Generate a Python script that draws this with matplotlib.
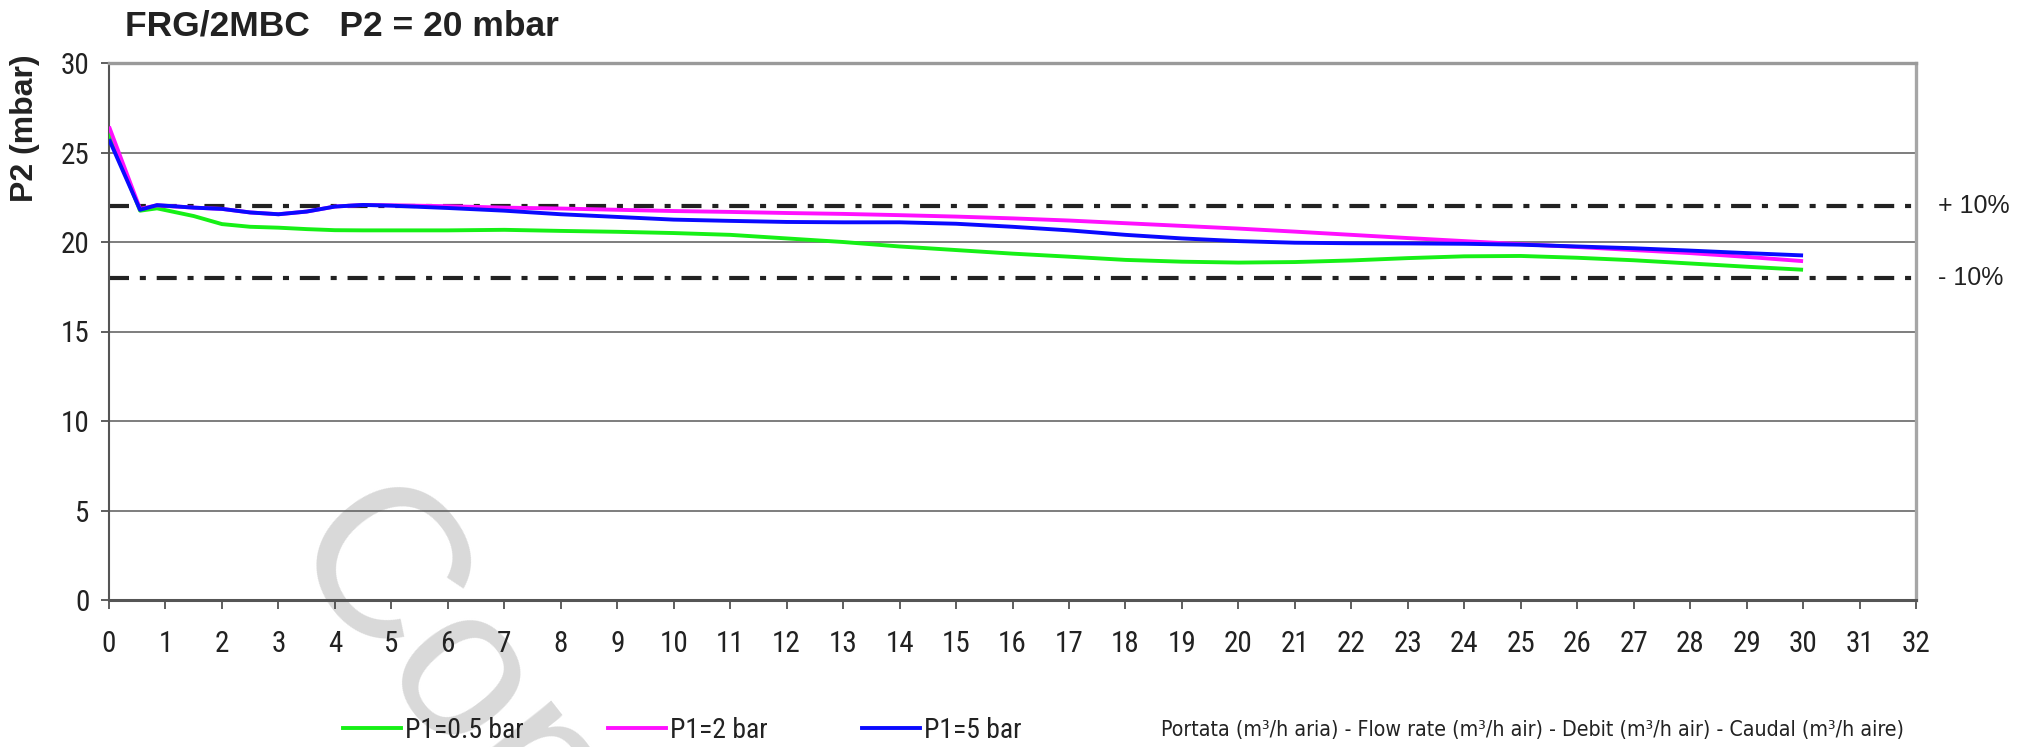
import matplotlib
matplotlib.use("Agg")
import matplotlib.pyplot as plt
from matplotlib import font_manager
from matplotlib.lines import Line2D

# data
flow = [0, 0.55, 0.85, 1.5, 2, 2.5, 3, 3.5, 4, 4.5, 5, 6, 7, 8, 9, 10, 11, 12, 13, 14,
        15, 16, 17, 18, 19, 20, 21, 22, 23, 24, 25, 26, 27, 28, 29, 30]
p2_05bar = [26.1, 21.75, 21.88, 21.45, 21.0, 20.85, 20.8, 20.72, 20.66, 20.65, 20.65, 20.65,
            20.68, 20.62, 20.57, 20.5, 20.4, 20.2, 20.0, 19.75, 19.55, 19.35, 19.18, 19.0,
            18.9, 18.85, 18.88, 18.97, 19.1, 19.2, 19.22, 19.12, 18.98, 18.8, 18.62, 18.45]
p2_2bar = [26.45, 21.85, 22.05, 21.92, 21.85, 21.65, 21.55, 21.7, 21.98, 22.07, 22.05, 22.0,
           21.92, 21.87, 21.8, 21.73, 21.68, 21.62, 21.57, 21.5, 21.42, 21.32, 21.2, 21.05,
           20.9, 20.75, 20.58, 20.4, 20.22, 20.05, 19.88, 19.72, 19.55, 19.38, 19.17, 18.93]
p2_5bar = [25.74, 21.8, 22.06, 21.92, 21.85, 21.65, 21.55, 21.7, 21.98, 22.07, 22.03, 21.9,
           21.75, 21.55, 21.4, 21.25, 21.18, 21.12, 21.1, 21.1, 21.02, 20.85, 20.65, 20.4,
           20.2, 20.05, 19.96, 19.93, 19.92, 19.9, 19.85, 19.75, 19.65, 19.52, 19.38, 19.25]
series_labels = ["P1=0.5 bar", "P1=2 bar", "P1=5 bar"]
series_colors = ["#16f016", "#ff10ff", "#0a0aff"]
limit_values = [22, 18]
limit_labels = ["+ 10%", "- 10%"]
x_ticks = list(range(0, 33))
y_ticks = [0, 5, 10, 15, 20, 25, 30]

# narrow face if one is installed, otherwise plain Liberation Sans a bit smaller
names = {f.name for f in font_manager.fontManager.ttflist}
narrow = None
for cand in ["Liberation Sans Narrow", "Arial Narrow", "Roboto Condensed",
             "Open Sans Condensed", "DejaVu Sans Condensed", "Noto Sans Condensed"]:
    if cand in names:
        narrow = cand
        break
if narrow:
    tick_font, tick_size, leg_size = narrow, 21, 20
else:
    tick_font, tick_size, leg_size = "Liberation Sans", 19, 18
plt.rcParams["font.family"] = ["Liberation Sans", "DejaVu Sans"]

W, H = 2029, 747
fig = plt.figure(figsize=(W / 100, H / 100), dpi=100)
fig.patch.set_facecolor("white")

# watermark behind everything
fig.text(279 / W, 1 - 551 / H, "Copy", fontsize=155, color="#d9d9d9", rotation=-52,
         rotation_mode="anchor", ha="left", va="baseline", zorder=-5)

ax = fig.add_axes([109 / W, 1 - 600 / H, (1916 - 109) / W, (600 - 63) / H])
ax.patch.set_facecolor("none")

for yv in y_ticks[1:-1]:
    ax.axhline(yv, color="#5a5a5a", lw=1.1, zorder=1)

for y, lab in zip(limit_values, limit_labels):
    ln, = ax.plot([0, 32], [y, y], color="#222222", lw=3.0, zorder=2)
    ln.set_dashes([4.8, 2.6, 1.45, 2.6])
    ax.text(1.012, y, lab, transform=ax.get_yaxis_transform(), fontsize=18,
            color="#222222", va="center", ha="left")

for vals, lab, col in zip([p2_05bar, p2_2bar, p2_5bar], series_labels, series_colors):
    ax.plot(flow, vals, color=col, lw=2.8, zorder=3, solid_capstyle="butt")

ax.set_xlim(0, 32)
ax.set_ylim(0, 30)
ax.set_xticks(x_ticks)
ax.set_yticks(y_ticks)
ax.tick_params(axis="both", direction="out", color="#333333", width=1.1,
               labelcolor="#222222")
ax.tick_params(axis="x", length=6.5, pad=15, labelsize=tick_size)
ax.tick_params(axis="y", length=6, pad=8, labelsize=tick_size)
for lab in ax.get_xticklabels() + ax.get_yticklabels():
    lab.set_family(tick_font)

ax.spines["left"].set_color("#555555")
ax.spines["left"].set_linewidth(1.5)
ax.spines["bottom"].set_color("#555555")
ax.spines["bottom"].set_linewidth(2.2)
ax.spines["top"].set_color("#9a9a9a")
ax.spines["top"].set_linewidth(2.4)
ax.spines["right"].set_color("#a6a6a6")
ax.spines["right"].set_linewidth(2.4)

fig.text(125 / W, 1 - 35 / H, "FRG/2MBC   P2 = 20 mbar", fontsize=25.5,
         fontweight="bold", color="#222222", ha="left", va="baseline")
fig.text(25 / W, 1 - 128 / H, "P2 (mbar)", fontsize=23, fontweight="bold",
         color="#222222", rotation=90, ha="center", va="center")

# one legend entry per column, placed where the reference has them
legend_x = [343, 608, 862]
for col, lab, lx in zip(series_colors, series_labels, legend_x):
    leg = fig.legend([Line2D([], [], color=col, lw=2.8)], [lab], loc="center left",
                     bbox_to_anchor=(lx / W, 1 - 730 / H), frameon=False,
                     borderpad=0, borderaxespad=0, handlelength=58 / (leg_size * 100 / 72),
                     handletextpad=0.16, prop={"family": tick_font, "size": leg_size})
    for t in leg.get_texts():
        t.set_color("#222222")

fig.text(1161 / W, 1 - 730 / H,
         "Portata (m³/h aria) - Flow rate (m³/h air) - Debit (m³/h air) - Caudal (m³/h aire)",
         fontsize=15.3, family="DejaVu Sans", fontstretch="condensed",
         color="#222222", ha="left", va="center")

fig.savefig("out.png", dpi=100, facecolor="white")
